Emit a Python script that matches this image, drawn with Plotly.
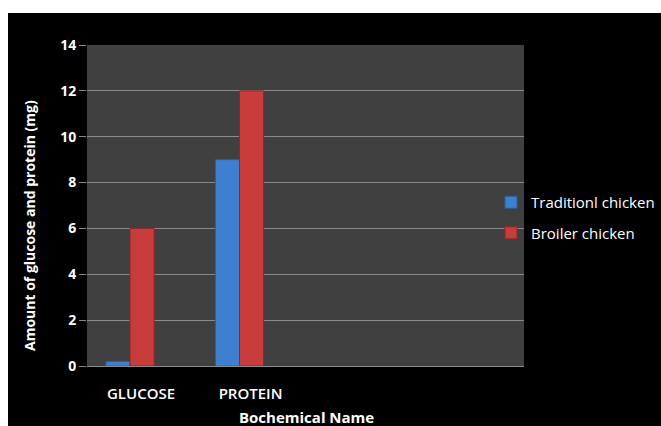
import plotly.graph_objects as go

# Biochemical content per chicken type
categories = ["GLUCOSE", "PROTEIN"]
traditional = [0.2, 9]
broiler = [6, 12]
series_names = ["Traditionl chicken", "Broiler chicken"]
y_ticks = [0, 2, 4, 6, 8, 10, 12, 14]

W, H = 661, 426
L, R, T, B = 87, 137, 45, 60
pw, ph = W - L - R, H - T - B


def px_x(px):
    return (px - L) / pw


def px_y(py_top):
    return (H - py_top - B) / ph


FONT = "Open Sans"

fig = go.Figure()
fig.add_trace(go.Bar(
    name=series_names[0], x=categories, y=traditional,
    marker=dict(color="#3f7fcf", line=dict(color="#2c5e9c", width=1)),
    legendgroup="a",
))
fig.add_trace(go.Bar(
    name=series_names[1], x=categories, y=broiler,
    marker=dict(color="#c83c3c", line=dict(color="#8e2828", width=1)),
    legendgroup="b",
))

shapes = [
    # white strips along the top and left edges of the canvas
    dict(type="rect", xref="paper", yref="paper",
         x0=px_x(-5), x1=px_x(W + 5), y0=px_y(13), y1=px_y(-5),
         fillcolor="white", line=dict(width=0), layer="above"),
    dict(type="rect", xref="paper", yref="paper",
         x0=px_x(-5), x1=px_x(8), y0=px_y(H + 5), y1=px_y(-5),
         fillcolor="white", line=dict(width=0), layer="above"),
]

annotations = [
    dict(text="Amount of glucose and protein (mg)", xref="paper", yref="paper",
         x=px_x(30), y=px_y(226), textangle=-90, showarrow=False,
         font=dict(family=FONT, size=14, color="white", weight="bold"),
         xanchor="center", yanchor="middle"),
    dict(text="Bochemical Name", xref="paper", yref="paper",
         x=px_x(306), y=px_y(417), showarrow=False,
         font=dict(family=FONT, size=15, color="white", weight="bold"),
         xanchor="center", yanchor="middle"),
]

fig.update_layout(
    width=W, height=H,
    margin=dict(l=L, r=R, t=T, b=B, autoexpand=False),
    paper_bgcolor="black",
    plot_bgcolor="#404040",
    barmode="group",
    bargap=0.56,
    bargroupgap=0,
    showlegend=True,
    legend=dict(
        x=px_x(491), y=px_y(186), xanchor="left", yanchor="top",
        bgcolor="rgba(0,0,0,0)",
        font=dict(family=FONT, size=15, color="white"),
        traceorder="grouped", tracegroupgap=8,
        itemwidth=30,
    ),
    shapes=shapes,
    annotations=annotations,
    xaxis=dict(
        type="category",
        range=[-0.393, 3.598],
        showgrid=False,
        showline=True, linecolor="#8a8a8a", linewidth=1,
        ticks="", ticklabelshift=11,
        tickfont=dict(family=FONT, size=15, color="white", weight=600),
        ticklabelstandoff=14,
    ),
    yaxis=dict(
        range=[0, 14],
        tickvals=y_ticks,
        showgrid=True, gridcolor="#8a8a8a", gridwidth=1,
        showline=False, zeroline=False,
        ticks="outside", ticklen=7, tickcolor="#8a8a8a",
        tickfont=dict(family=FONT, size=14, color="white", weight="bold"),
    ),
)

fig.write_html("out.html")
